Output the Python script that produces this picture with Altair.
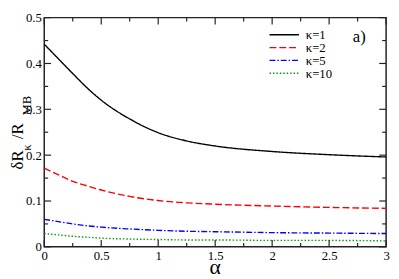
import altair as alt
import pandas as pd

# ---- data ----
alpha = [0, 0.125, 0.25, 0.375, 0.5, 0.75, 1.0, 1.25, 1.5, 2.0, 2.5, 3.0]
k1 = [0.442, 0.410, 0.378, 0.347, 0.320, 0.279, 0.249, 0.231, 0.220, 0.208, 0.201, 0.196]
k2 = [0.172, 0.157, 0.143, 0.133, 0.124, 0.110, 0.101, 0.096, 0.093, 0.089, 0.086, 0.084]
k5 = [0.060, 0.055, 0.050, 0.046, 0.043, 0.039, 0.036, 0.034, 0.033, 0.031, 0.030, 0.029]
k10 = [0.029, 0.026, 0.023, 0.021, 0.019, 0.017, 0.016, 0.015, 0.015, 0.014, 0.014, 0.013]
series_names = ["κ=1", "κ=2", "κ=5", "κ=10"]
series_vals = [k1, k2, k5, k10]
colors = ["#000000", "#ff0000", "#0000ff", "#00a000"]
dashes = [[1, 0], [7, 3], [6, 2, 1.5, 2], [1.5, 2]]

x_major = [0, 0.5, 1, 1.5, 2, 2.5, 3]
x_minor = [0.25, 0.75, 1.25, 1.75, 2.25, 2.75]
y_major = [0, 0.1, 0.2, 0.3, 0.4, 0.5]
y_minor = [0.05, 0.15, 0.25, 0.35, 0.45]

W, H = 349, 234
SERIF = "Liberation Serif"

rows = []
for name, vals in zip(series_names, series_vals):
    for a, v in zip(alpha, vals):
        rows.append({"alpha": a, "val": v, "kappa": name})
df = pd.DataFrame(rows)

xs = alt.Scale(domain=[0, 3], nice=False, zero=False)
ys = alt.Scale(domain=[0, 0.5], nice=False, zero=False)
xaxis = alt.Axis(values=x_major, format="~g", ticks=False, domain=False, grid=False,
                 labelPadding=3, title=None, labelFlush=False)
yaxis = alt.Axis(values=y_major, format="~g", ticks=False, domain=False, grid=False,
                 labelPadding=3, title=None)

layers = []
for name, col, dash in zip(series_names, colors, dashes):
    sub = df[df.kappa == name]
    layers.append(
        alt.Chart(sub).mark_line(color=col, strokeDash=dash, strokeWidth=1.4,
                                 interpolate="monotone", clip=True).encode(
            x=alt.X("alpha:Q", scale=xs, axis=xaxis),
            y=alt.Y("val:Q", scale=ys, axis=yaxis),
        )
    )

# inward tick marks on all four sides
def yticks(vals, length, side):
    d = pd.DataFrame({"v": vals})
    if side == "left":
        xa, xb = 0, length
    else:
        xa, xb = W - length, W
    return alt.Chart(d).mark_rule(color="#222", strokeWidth=1.2).encode(
        y=alt.Y("v:Q", scale=ys, axis=yaxis), x=alt.value(xa), x2=alt.value(xb))

def xticks(vals, length, side):
    d = pd.DataFrame({"v": vals})
    if side == "bottom":
        ya, yb = H - length, H
    else:
        ya, yb = 0, length
    return alt.Chart(d).mark_rule(color="#222", strokeWidth=1.2).encode(
        x=alt.X("v:Q", scale=xs, axis=xaxis), y=alt.value(ya), y2=alt.value(yb))

for side in ["left", "right"]:
    layers.append(yticks(y_major, 7, side))
    layers.append(yticks(y_minor, 4, side))
for side in ["bottom", "top"]:
    layers.append(xticks(x_major, 7, side))
    layers.append(xticks(x_minor, 4, side))

# legend
for i, (name, col, dash) in enumerate(zip(series_names, colors, dashes)):
    yy = 17.5 + 13.1 * i
    one = pd.DataFrame({"t": [name]})
    layers.append(alt.Chart(one).mark_rule(color=col, strokeDash=dash, strokeWidth=1.4).encode(
        x=alt.value(230), x2=alt.value(260), y=alt.value(yy)))
    layers.append(alt.Chart(one).mark_text(font=SERIF, fontSize=13, align="left",
                                           baseline="alphabetic", color="black").encode(
        x=alt.value(267), y=alt.value(yy + 4.5), text="t:N"))

# panel label
layers.append(alt.Chart(pd.DataFrame({"t": ["a)"]})).mark_text(
    font=SERIF, fontSize=17, align="left", baseline="alphabetic", color="black").encode(
    x=alt.value(315), y=alt.value(25), text="t:N"))

# x title
layers.append(alt.Chart(pd.DataFrame({"t": ["α"]})).mark_text(
    font=SERIF, fontSize=22, align="center", baseline="alphabetic", color="black").encode(
    x=alt.value(W / 2), y=alt.value(262), text="t:N"))

# y title pieces (rotated)
ytitle = [("δR", 17, -22, 155), ("κ", 13, -14, 136), ("/R", 17, -22, 124), ("MB", 13, -14, 100)]
for txt, fs, xx, yy in ytitle:
    layers.append(alt.Chart(pd.DataFrame({"t": [txt]})).mark_text(
        font=SERIF, fontSize=fs, align="left", baseline="alphabetic", angle=270,
        color="black").encode(x=alt.value(xx), y=alt.value(yy), text="t:N"))

chart = alt.layer(*layers).properties(
    width=W, height=H,
    autosize=alt.AutoSizeParams(type="none"),
    padding={"left": 37, "top": 7, "right": 5, "bottom": 30},
).configure_view(stroke="#222", strokeWidth=1.5).configure_axis(
    labelFont=SERIF, labelFontSize=13, labelColor="black")

chart.save("out.html", embed_options={"renderer": "svg", "actions": False})
